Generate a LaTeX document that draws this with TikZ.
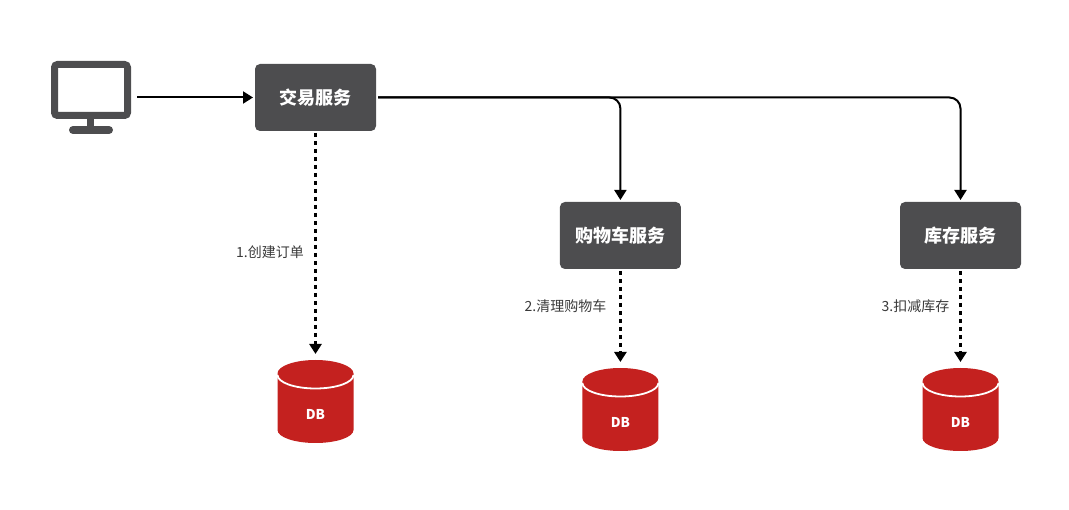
\documentclass[tikz,border=0pt]{standalone}
\usepackage{fontspec}
\setmainfont{Noto Sans CJK SC}
\usetikzlibrary{arrows.meta}

\definecolor{boxgray}{HTML}{4D4D4F}
\definecolor{dbred}{HTML}{C4211F}
\definecolor{labelgray}{HTML}{3A3A3A}

\tikzset{
    service/.style={fill=boxgray, text=white, rounded corners=5pt, minimum width=121pt, minimum height=67pt, inner sep=0pt, outer sep=2pt, font=\fontsize{18}{20}\selectfont\bfseries},
    screen/.style={draw=boxgray, line width=7pt, fill=white, rounded corners=3pt, minimum width=73pt, minimum height=51pt, inner sep=0pt},
    dbbody/.style={minimum width=76pt, minimum height=83pt, inner sep=0pt, outer sep=6pt},
    dbtext/.style={text=white, inner sep=0pt, font=\fontsize{13.5}{14}\selectfont\bfseries},
    steptext/.style={text=labelgray, inner sep=0pt, font=\fontsize{14}{16}\selectfont},
    call/.style={-{Triangle[width=12pt,length=10pt]}, line width=2pt},
    write/.style={call, line width=2.6pt, dash pattern=on 4pt off 4pt},
}

% red can, #2 = centre x, #3 = top y
\newcommand{\dbcan}[3]{
    \fill[dbred] (#2-38,#3+13.5) arc[start angle=180, end angle=0, x radius=38pt, y radius=13.5pt]
        -- (#2+38,#3+70) arc[start angle=0, end angle=-180, x radius=38pt, y radius=13pt] -- cycle;
    \draw[white, line width=1.8pt] (#2-38,#3+15) arc[start angle=180, end angle=360, x radius=38pt, y radius=13.5pt];
    \node[dbbody] (#1) at (#2,#3+41.5) {};
    \node[dbtext] (#1text) at (#2,#3+54.5) {DB};
}

\begin{document}
\begin{tikzpicture}[x=1pt, y=-1pt]
    \useasboundingbox (0,0) rectangle (1069,510);

    % monitor
    \node[screen] (pc) at (91,90) {};
    \fill[boxgray] (87.3,119) rectangle (94.3,127);
    \draw[boxgray, line width=8pt, line cap=round] (73,130) -- (109,130);
    \coordinate (pcout) at (137,97.5);

    % services
    \node[service] (trade) at (315.5,97.5) {交易服务};
    \node[service] (cart) at (620.4,235.5) {购物车服务};
    \node[service] (stock) at (960.5,235.5) {库存服务};

    % databases
    \dbcan{dbtrade}{315.5}{360}
    \dbcan{dbcart}{620.4}{368}
    \dbcan{dbstock}{960.5}{368}

    % calls
    \draw[call] (pcout) -- (trade);
    \draw[call, rounded corners=11pt] (trade.east) -| (cart.north);
    \draw[call, rounded corners=11pt] (trade.east) -| (stock.north);

    \draw[write] (trade.south) -- (dbtrade.north);
    \draw[write] (cart.south) -- (dbcart.north);
    \draw[write] (stock.south) -- (dbstock.north);

    \node[steptext] (step1) at (270,252) {1.创建订单};
    \node[steptext] (step2) at (565.5,306) {2.清理购物车};
    \node[steptext] (step3) at (915.5,306) {3.扣减库存};
\end{tikzpicture}
\end{document}
